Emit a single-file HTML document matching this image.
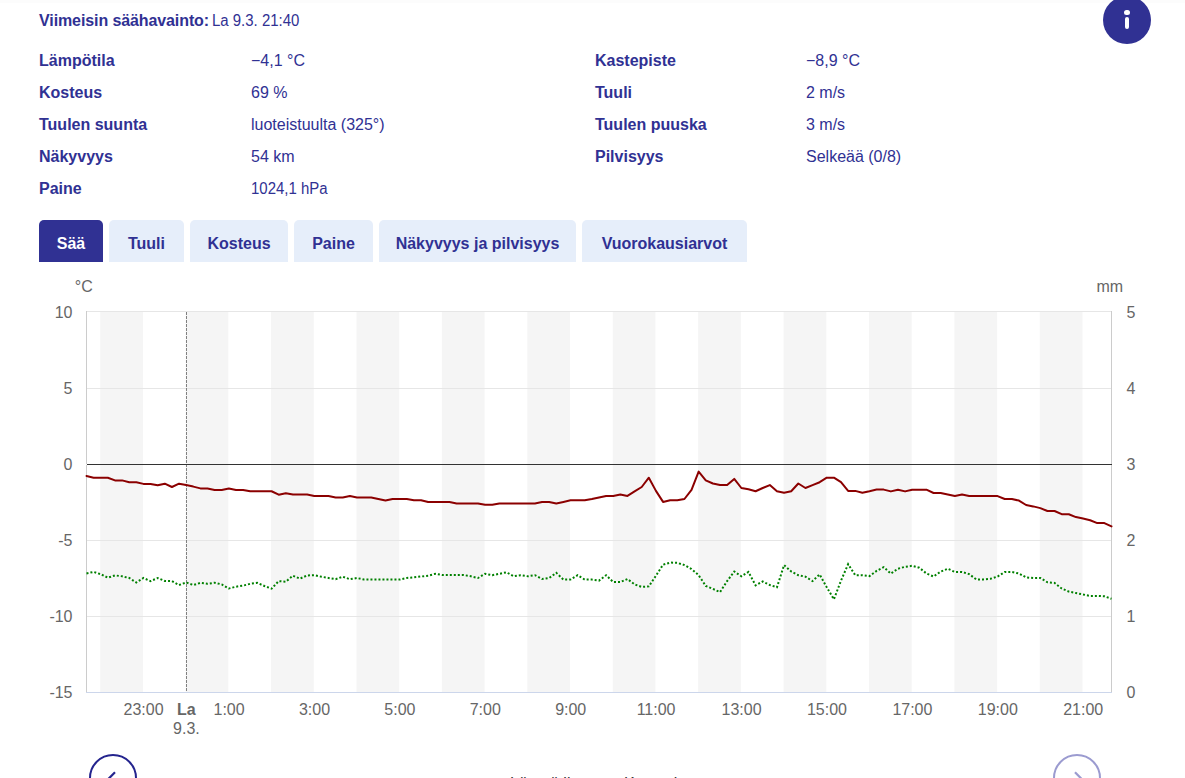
<!DOCTYPE html>
<html lang="fi">
<head>
<meta charset="utf-8">
<title>Viimeisin säähavainto</title>
<style>
html,body{margin:0;padding:0;background:#fff;}
body{width:1185px;height:778px;overflow:hidden;position:relative;font-family:"Liberation Sans",Arial,sans-serif;color:#303193;}
.topshade{position:absolute;left:0;top:0;width:1185px;height:3px;background:#fcfcfc;}
.t{position:absolute;white-space:nowrap;font-size:16px;line-height:20px;}
.b{font-weight:bold;}
.info{position:absolute;left:1103px;top:-4px;width:48px;height:48px;border-radius:50%;background:#303193;}
.info .dot{position:absolute;left:21.2px;top:13.8px;width:5.6px;height:5.6px;border-radius:50%;background:#fff;}
.info .stem{position:absolute;left:21.6px;top:21px;width:4.8px;height:12px;border-radius:2.4px;background:#fff;}
.tabs{position:absolute;left:0;top:220px;}
.tab{position:absolute;top:0;height:42px;box-sizing:border-box;padding-top:5px;border-radius:5px 5px 0 0;background:#e6eefa;color:#303193;font-weight:bold;font-size:16px;line-height:38.5px;text-align:center;}
.tab.on{background:#303193;color:#fff;}
.chart{position:absolute;left:0;top:0;}
.nav{position:absolute;width:44px;height:44px;border-radius:50%;border:2px solid #24248e;}
.legend{position:absolute;top:774px;font-size:16px;line-height:20px;color:#333;white-space:nowrap;}
</style>
</head>
<body>
<div class="topshade"></div>
<div class="t" style="left:39px;top:11px;"><span class="b" style="letter-spacing:-0.1px">Viimeisin säähavainto:</span> <span style="display:inline-block;transform:scaleX(0.935);transform-origin:0 50%;margin-left:-1px">La 9.3. 21:40</span></div>
<div class="info"><div class="dot"></div><div class="stem"></div></div>

<div class="t b" style="left:39px;top:51px;">Lämpötila</div>
<div class="t" style="left:251px;top:51px;">−4,1 °C</div>
<div class="t b" style="left:595px;top:51px;">Kastepiste</div>
<div class="t" style="left:806px;top:51px;">−8,9 °C</div>

<div class="t b" style="left:39px;top:83px;">Kosteus</div>
<div class="t" style="left:251px;top:83px;">69 %</div>
<div class="t b" style="left:595px;top:83px;">Tuuli</div>
<div class="t" style="left:806px;top:83px;">2 m/s</div>

<div class="t b" style="left:39px;top:115px;">Tuulen suunta</div>
<div class="t" style="left:251px;top:115px;">luoteistuulta (325°)</div>
<div class="t b" style="left:595px;top:115px;">Tuulen puuska</div>
<div class="t" style="left:806px;top:115px;">3 m/s</div>

<div class="t b" style="left:39px;top:147px;">Näkyvyys</div>
<div class="t" style="left:251px;top:147px;">54 km</div>
<div class="t b" style="left:595px;top:147px;">Pilvisyys</div>
<div class="t" style="left:806px;top:147px;">Selkeää (0/8)</div>

<div class="t b" style="left:39px;top:179px;">Paine</div>
<div class="t" style="left:251px;top:179px;transform:scaleX(0.935);transform-origin:0 50%;">1024,1 hPa</div>

<div class="tabs">
<div class="tab on" style="left:39px;width:64px;">Sää</div>
<div class="tab" style="left:109px;width:75px;">Tuuli</div>
<div class="tab" style="left:190px;width:98px;">Kosteus</div>
<div class="tab" style="left:294px;width:79px;">Paine</div>
<div class="tab" style="left:379px;width:197px;">Näkyvyys ja pilvisyys</div>
<div class="tab" style="left:582px;width:165px;">Vuorokausiarvot</div>
</div>
<svg class="chart" width="1185" height="778" viewBox="0 0 1185 778">
<g><rect x="100.24" y="311" width="42.71" height="381" fill="#f5f5f5"/><rect x="185.65" y="311" width="42.71" height="381" fill="#f5f5f5"/><rect x="271.07" y="311" width="42.71" height="381" fill="#f5f5f5"/><rect x="356.49" y="311" width="42.71" height="381" fill="#f5f5f5"/><rect x="441.90" y="311" width="42.71" height="381" fill="#f5f5f5"/><rect x="527.32" y="311" width="42.71" height="381" fill="#f5f5f5"/><rect x="612.74" y="311" width="42.71" height="381" fill="#f5f5f5"/><rect x="698.15" y="311" width="42.71" height="381" fill="#f5f5f5"/><rect x="783.57" y="311" width="42.71" height="381" fill="#f5f5f5"/><rect x="868.99" y="311" width="42.71" height="381" fill="#f5f5f5"/><rect x="954.40" y="311" width="42.71" height="381" fill="#f5f5f5"/><rect x="1039.82" y="311" width="42.71" height="381" fill="#f5f5f5"/></g>
<rect x="86" y="311" width="1026" height="1" fill="#e6e6e6"/><rect x="86" y="388" width="1026" height="1" fill="#e6e6e6"/><rect x="86" y="540" width="1026" height="1" fill="#e6e6e6"/><rect x="86" y="616" width="1026" height="1" fill="#e6e6e6"/>
<line x1="186.5" y1="312" x2="186.5" y2="692" stroke="#808080" stroke-width="1" stroke-dasharray="3,1"/>
<rect x="86" y="311" width="1" height="382" fill="#cccccc"/>
<rect x="1111" y="311" width="1" height="382" fill="#cccccc"/>
<rect x="87" y="464" width="1025" height="1" fill="#333333"/><rect x="86" y="464" width="1" height="1" fill="#f8f8f8"/>
<rect x="86" y="692" width="1026" height="1" fill="#ccd6eb"/>
<polyline points="86.50,573.40 93.62,571.90 100.74,574.20 107.85,577.70 114.97,575.40 122.09,576.30 129.21,578.00 136.33,582.50 143.44,578.00 150.56,581.10 157.68,578.00 164.80,581.00 171.92,581.10 179.03,585.00 186.15,582.50 193.27,585.00 200.39,582.90 207.51,583.80 214.62,582.70 221.74,584.40 228.86,588.50 235.98,586.70 243.10,585.60 250.22,583.80 257.33,582.90 264.45,586.00 271.57,588.70 278.69,581.10 285.81,581.70 292.92,575.70 300.04,578.60 307.16,575.40 314.28,575.20 321.40,576.70 328.51,578.00 335.63,579.20 342.75,576.70 349.87,579.20 356.99,578.00 364.10,579.60 371.22,579.60 378.34,579.60 385.46,579.60 392.58,579.60 399.69,579.60 406.81,578.00 413.93,577.30 421.05,576.50 428.17,575.70 435.28,573.80 442.40,575.00 449.52,575.00 456.64,575.00 463.76,575.00 470.88,576.30 477.99,578.00 485.11,573.80 492.23,575.20 499.35,573.80 506.47,572.30 513.58,576.30 520.70,575.20 527.82,576.30 534.94,575.20 542.06,579.00 549.17,578.00 556.29,572.80 563.41,579.60 570.53,579.60 577.65,575.20 584.76,579.60 591.88,579.60 599.00,580.60 606.12,575.20 613.24,582.10 620.35,582.10 627.47,579.00 634.59,584.40 641.71,586.90 648.83,586.40 655.94,575.70 663.06,564.70 670.18,562.60 677.30,562.80 684.42,565.10 691.53,569.00 698.65,575.20 705.77,586.00 712.89,588.90 720.01,592.10 727.12,581.10 734.24,571.50 741.36,576.30 748.48,571.90 755.60,585.40 762.72,581.50 769.83,585.00 776.95,587.30 784.07,565.10 791.19,571.50 798.31,575.20 805.42,576.70 812.54,581.10 819.66,574.40 826.78,587.30 833.90,599.30 841.01,580.60 848.13,564.20 855.25,575.20 862.37,575.20 869.49,576.10 876.60,570.90 883.72,567.20 890.84,573.60 897.96,568.70 905.08,566.80 912.19,565.80 919.31,567.70 926.43,573.50 933.55,576.50 940.67,571.60 947.78,568.70 954.90,572.00 962.02,572.00 969.14,574.10 976.26,579.40 983.38,579.40 990.49,578.80 997.61,576.50 1004.73,572.00 1011.85,572.00 1018.97,573.50 1026.08,577.40 1033.20,578.00 1040.32,578.00 1047.44,582.30 1054.56,582.90 1061.67,588.50 1068.79,591.60 1075.91,593.00 1083.03,594.50 1090.15,595.90 1097.26,595.90 1104.38,596.30 1111.50,598.80" fill="none" stroke="#008000" stroke-width="2" stroke-dasharray="2,2"/>
<polyline points="86.50,476.00 93.62,477.70 100.74,477.70 107.85,477.70 114.97,480.40 122.09,480.40 129.21,482.20 136.33,482.20 143.44,483.90 150.56,483.90 157.68,485.30 164.80,483.70 171.92,487.00 179.03,483.70 186.15,485.10 193.27,486.60 200.39,488.40 207.51,488.40 214.62,489.90 221.74,489.90 228.86,488.40 235.98,489.90 243.10,489.90 250.22,491.25 257.33,491.25 264.45,491.25 271.57,491.25 278.69,494.70 285.81,493.20 292.92,494.50 300.04,494.50 307.16,494.50 314.28,495.90 321.40,495.90 328.51,495.90 335.63,497.40 342.75,497.40 349.87,495.90 356.99,497.40 364.10,497.40 371.22,497.40 378.34,499.00 385.46,500.50 392.58,499.00 399.69,499.00 406.81,499.00 413.93,500.30 421.05,500.30 428.17,501.90 435.28,501.90 442.40,501.90 449.52,501.90 456.64,503.40 463.76,503.40 470.88,503.40 477.99,503.40 485.11,504.75 492.23,504.75 499.35,503.40 506.47,503.40 513.58,503.40 520.70,503.40 527.82,503.40 534.94,503.40 542.06,501.90 549.17,501.90 556.29,503.40 563.41,501.90 570.53,500.30 577.65,500.30 584.76,500.30 591.88,499.00 599.00,497.40 606.12,495.90 613.24,495.90 620.35,494.50 627.47,495.90 634.59,491.40 641.71,487.00 648.83,477.70 655.94,490.90 663.06,501.90 670.18,500.30 677.30,500.30 684.42,499.00 691.53,489.90 698.65,471.60 705.77,480.30 712.89,483.50 720.01,485.10 727.12,485.10 734.24,478.90 741.36,488.00 748.48,489.30 755.60,491.25 762.72,488.00 769.83,485.10 776.95,491.25 784.07,492.80 791.19,491.25 798.31,483.50 805.42,488.00 812.54,485.10 819.66,482.20 826.78,477.70 833.90,477.70 841.01,482.20 848.13,490.90 855.25,490.90 862.37,492.80 869.49,491.25 876.60,489.50 883.72,489.60 890.84,491.40 897.96,489.70 905.08,491.40 912.19,489.70 919.31,489.70 926.43,489.70 933.55,493.00 940.67,493.00 947.78,494.50 954.90,496.10 962.02,494.50 969.14,496.10 976.26,496.10 983.38,496.10 990.49,496.10 997.61,496.10 1004.73,499.00 1011.85,499.00 1018.97,500.60 1026.08,505.00 1033.20,506.40 1040.32,508.10 1047.44,511.00 1054.56,511.00 1061.67,514.20 1068.79,514.20 1075.91,517.10 1083.03,518.60 1090.15,520.20 1097.26,523.10 1104.38,523.10 1111.50,526.40" fill="none" stroke="#8b0000" stroke-width="2" stroke-linejoin="round" stroke-linecap="round"/>
<g font-family="Liberation Sans, Arial, sans-serif" font-size="16" fill="#666666">
<text x="72.5" y="318" text-anchor="end">10</text><text x="72.5" y="394" text-anchor="end">5</text><text x="72.5" y="470" text-anchor="end">0</text><text x="72.5" y="546" text-anchor="end">-5</text><text x="72.5" y="622" text-anchor="end">-10</text><text x="72.5" y="698" text-anchor="end">-15</text>
<text x="1126.5" y="318">5</text><text x="1126.5" y="394">4</text><text x="1126.5" y="470">3</text><text x="1126.5" y="546">2</text><text x="1126.5" y="622">1</text><text x="1126.5" y="698">0</text>
<text x="74.8" y="292">°C</text>
<text x="1096.5" y="292">mm</text>
<text x="143.6" y="715" text-anchor="middle">23:00</text><text x="186.4" y="715" text-anchor="middle" font-weight="bold">La</text><text x="186.4" y="734" text-anchor="middle">9.3.</text><text x="229.1" y="715" text-anchor="middle">1:00</text><text x="314.5" y="715" text-anchor="middle">3:00</text><text x="399.9" y="715" text-anchor="middle">5:00</text><text x="485.3" y="715" text-anchor="middle">7:00</text><text x="570.7" y="715" text-anchor="middle">9:00</text><text x="656.1" y="715" text-anchor="middle">11:00</text><text x="741.6" y="715" text-anchor="middle">13:00</text><text x="827.0" y="715" text-anchor="middle">15:00</text><text x="912.4" y="715" text-anchor="middle">17:00</text><text x="997.8" y="715" text-anchor="middle">19:00</text><text x="1083.2" y="715" text-anchor="middle">21:00</text>
</g>
</svg><div class="nav" style="left:89px;top:754px;"><svg width="44" height="44" style="position:absolute;left:0;top:0"><polyline points="24,16.3 18,22.3 24,28.3" fill="none" stroke="#24248e" stroke-width="2.2" stroke-linecap="butt" stroke-linejoin="miter"/></svg></div>
<div class="nav" style="left:1053px;top:754px;border-color:#9b9bd0;"><svg width="44" height="44" style="position:absolute;left:0;top:0"><polyline points="20,16.3 26,22.3 20,28.3" fill="none" stroke="#9b9bd0" stroke-width="2.2" stroke-linecap="butt" stroke-linejoin="miter"/></svg></div>
<div class="legend" style="left:510px;">Lämpötila</div>
<div class="legend" style="left:624px;">Kastepiste</div>
</body>
</html>
